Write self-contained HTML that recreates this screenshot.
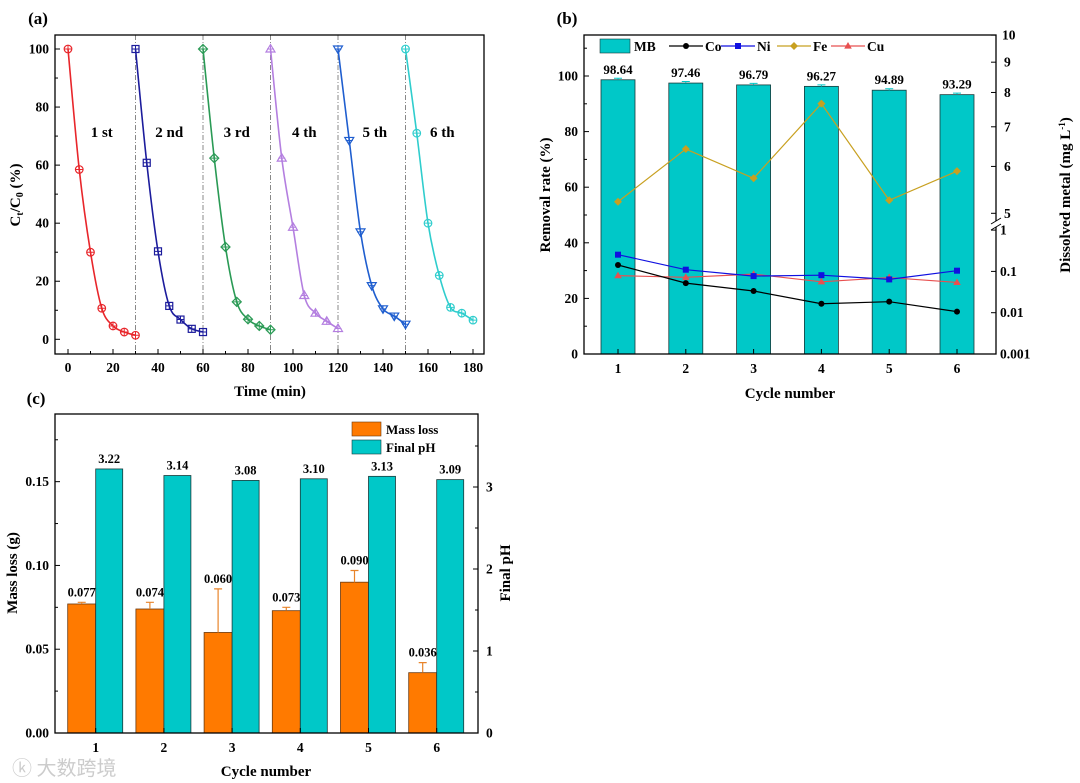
<!DOCTYPE html>
<html><head><meta charset="utf-8"><style>
body{margin:0;background:#fff}
svg{display:block;font-family:"Liberation Serif","Noto Serif CJK SC",serif;font-weight:bold}
</style></head><body>
<svg id="fig" width="1080" height="783" viewBox="0 0 1080 783" xmlns="http://www.w3.org/2000/svg">
<rect width="1080" height="783" fill="#fff"/>
</svg>
<script>
// ---------- Panel (a) data ----------
const cycleLabels=["1 st","2 nd","3 rd","4 th","5 th","6 th"];
const cycleTimes=[0,5,10,15,20,25,30];
const cycle1=[100,58.5,30,10.7,4.6,2.5,1.4];
const cycle2=[100,60.8,30.3,11.5,6.8,3.6,2.5];
const cycle3=[100,62.4,31.8,12.9,6.9,4.6,3.3];
const cycle4=[100,62.4,38.6,15.1,9.0,6.2,3.7];
const cycle5=[100,68.5,37,18.5,10.5,8,5.2];
const cycle6=[100,71,40,22,11,9,6.6];
const aXTicks=[0,20,40,60,80,100,120,140,160,180];
const aYTicks=[0,20,40,60,80,100];
// ---------- Panel (b) data ----------
const bCats=["1","2","3","4","5","6"];
const mbValues=[98.64,97.46,96.79,96.27,94.89,93.29];
const mbLabels=["98.64","97.46","96.79","96.27","94.89","93.29"];
const coValues=[0.143,0.052,0.0335,0.0165,0.0185,0.0106];
const niValues=[0.254,0.11,0.077,0.081,0.064,0.104];
const feValues=[5.23,6.42,5.73,7.66,5.26,5.89];
const cuValues=[0.079,0.072,0.086,0.056,0.071,0.054];
const bLeftTicks=[0,20,40,60,80,100];
const bRightLowTicks=[0.001,0.01,0.1,1];
const bRightLowLabels=["0.001","0.01","0.1","1"];
const bRightHighTicks=[5,6,7,8,9,10];
// ---------- Panel (c) data ----------
const cCats=["1","2","3","4","5","6"];
const massLoss=[0.077,0.074,0.060,0.073,0.090,0.036];
const massErr=[0.001,0.004,0.026,0.002,0.007,0.006];
const massLabels=["0.077","0.074","0.060","0.073","0.090","0.036"];
const finalPH=[3.22,3.14,3.08,3.10,3.13,3.09];
const phLabels=["3.22","3.14","3.08","3.10","3.13","3.09"];
const cLeftTicks=[0,0.05,0.10,0.15];
const cLeftLabels=["0.00","0.05","0.10","0.15"];
const cRightTicks=[0,1,2,3];

const NS="http://www.w3.org/2000/svg";
const svg=document.getElementById('fig');
function el(tag,attrs,parent,text){const e=document.createElementNS(NS,tag);for(const k in attrs)e.setAttribute(k,attrs[k]);if(text!==undefined)e.textContent=text;(parent||svg).appendChild(e);return e;}
function grp(name){const g=el('g',{});return g;}
function txt(g,x,y,s,size,anchor,name){const t=el('text',{x:x,y:y,'font-size':size,'text-anchor':anchor||'middle',fill:'#000'},g,s);return t;}
function smooth(pts){let d=`M${pts[0][0]},${pts[0][1]}`;for(let i=0;i<pts.length-1;i++){const p0=pts[Math.max(0,i-1)],p1=pts[i],p2=pts[i+1],p3=pts[Math.min(pts.length-1,i+2)];const c1=[p1[0]+(p2[0]-p0[0])/6,p1[1]+(p2[1]-p0[1])/6],c2=[p2[0]-(p3[0]-p1[0])/6,p2[1]-(p3[1]-p1[1])/6];d+=` C${c1[0]},${c1[1]} ${c2[0]},${c2[1]} ${p2[0]},${p2[1]}`;}return d;}
const TS=13.5;

// ===== Panel (a) =====
(function(){
const L=55,R=484,T=35,B=354;
const xs=v=>68+v*(473-68)/180, ys=v=>339.3-v*2.903;
const g=grp('panel-a');
txt(g,38,24,'(a)',17,'middle','panel-a-label');
const data=[cycle1,cycle2,cycle3,cycle4,cycle5,cycle6];
const colors=['#e8262b','#1c1c9c','#2a9a55','#b47fe0','#1f5ecf','#2fcdcd'];
const markers=['circle','square','diamond','tri','dtri','circle'];
for(let c=1;c<6;c++){const l=el('line',{x1:xs(30*c),x2:xs(30*c),y1:T,y2:B,stroke:'#888','stroke-width':1,'stroke-dasharray':'5,2,1,2'},g);}
data.forEach((arr,c)=>{
 const sg=el('g',{},g);
 const pts=arr.map((v,i)=>[xs(30*c+cycleTimes[i]),ys(v)]);
 el('path',{d:smooth(pts),fill:'none',stroke:colors[c],'stroke-width':1.6},sg);
 pts.forEach(([x,y])=>{
  const col=colors[c];let m;
  if(markers[c]==='circle')m=el('circle',{cx:x,cy:y,r:3.8,fill:'none',stroke:col,'stroke-width':1.2},sg);
  else if(markers[c]==='square')m=el('rect',{x:x-3.5,y:y-3.5,width:7,height:7,fill:'none',stroke:col,'stroke-width':1.2},sg);
  else if(markers[c]==='diamond')m=el('path',{d:`M${x},${y-4.5}L${x+4.5},${y}L${x},${y+4.5}L${x-4.5},${y}Z`,fill:'none',stroke:col,'stroke-width':1.2},sg);
  else if(markers[c]==='tri')m=el('path',{d:`M${x},${y-4.5}L${x+4.5},${y+3}L${x-4.5},${y+3}Z`,fill:'none',stroke:col,'stroke-width':1.2},sg);
  else m=el('path',{d:`M${x},${y+4.5}L${x+4.5},${y-3}L${x-4.5},${y-3}Z`,fill:'none',stroke:col,'stroke-width':1.2},sg);
  
  el('path',{d:`M${x-3.5},${y}H${x+3.5}M${x},${y-3.5}V${y+3.5}`,stroke:col,'stroke-width':1},sg);
 });
 txt(g,xs(30*c+15)+(c>=4?3:0),137,cycleLabels[c],15,'middle','cycle-label');
});
el('rect',{x:L,y:T,width:R-L,height:B-T,fill:'none',stroke:'#000','stroke-width':1.3},g);
aXTicks.forEach(v=>{el('line',{x1:xs(v),x2:xs(v),y1:B,y2:B-5,stroke:'#000'},g);if(v<180)el('line',{x1:xs(v+10),x2:xs(v+10),y1:B,y2:B-3,stroke:'#000'},g);txt(g,xs(v),372,String(v),TS,'middle','x-tick-label');});
aYTicks.forEach(v=>{el('line',{x1:L,x2:L+5,y1:ys(v),y2:ys(v),stroke:'#000'},g);if(v<100)el('line',{x1:L,x2:L+3,y1:ys(v+10),y2:ys(v+10),stroke:'#000'},g);txt(g,L-6,ys(v)+4.5,String(v),TS,'end','y-tick-label');});
txt(g,270,396,'Time (min)',15,'middle','x-axis-title');
const yt=el('text',{transform:'translate(20,195) rotate(-90)','font-size':15,'text-anchor':'middle'},g);

yt.innerHTML='C<tspan font-size="10" dy="3">t</tspan><tspan dy="-3">/C</tspan><tspan font-size="10" dy="3">0</tspan><tspan dy="-3"> (%)</tspan>';
})();

// ===== Panel (b) =====
(function(){
const L=584,R=996,T=35,B=354;
const xc=i=>618+i*67.8, yl=v=>354-v*2.78;
const ylog=v=>354-41.3*(Math.log10(v)+3);
const yhi=v=>213.3-592*Math.log10(v/5);
const g=grp('panel-b');
txt(g,567,24,'(b)',17,'middle','panel-b-label');
mbValues.forEach((v,i)=>{
 const r=el('rect',{x:xc(i)-17,y:yl(v),width:34,height:B-yl(v),fill:'#00c8c8',stroke:'#1a3a3a','stroke-width':0.8},g);
 
 el('path',{d:`M${xc(i)-4},${yl(v)-1.5}H${xc(i)+4}M${xc(i)},${yl(v)-1.5}V${yl(v)}`,stroke:'#00c8c8','stroke-width':1},g);
 txt(g,xc(i),yl(v)-6,mbLabels[i],13,'middle','bar-value-label');
});
function series(vals,fy,col,mk,name){
 const sg=el('g',{},g);
 el('polyline',{points:vals.map((v,i)=>xc(i)+','+fy(v)).join(' '),fill:'none',stroke:col,'stroke-width':1.2},sg);
 vals.forEach((v,i)=>marker(sg,xc(i),fy(v),col,mk));
}
function marker(p,x,y,col,mk){let m;
 if(mk==='c')m=el('circle',{cx:x,cy:y,r:3,fill:col},p);
 else if(mk==='s')m=el('rect',{x:x-3,y:y-3,width:6,height:6,fill:col},p);
 else if(mk==='d')m=el('path',{d:`M${x},${y-4}L${x+4},${y}L${x},${y+4}L${x-4},${y}Z`,fill:col},p);
 else m=el('path',{d:`M${x},${y-4}L${x+3.8},${y+2.6}L${x-3.8},${y+2.6}Z`,fill:col},p);
 }
series(feValues,yhi,'#c8a020','d','series-fe');
series(cuValues,ylog,'#e85050','t','series-cu');
series(niValues,ylog,'#1010e0','s','series-ni');
series(coValues,ylog,'#000','c','series-co');
el('rect',{x:L,y:T,width:R-L,height:B-T,fill:'none',stroke:'#000','stroke-width':1.3},g);
bCats.forEach((c,i)=>{el('line',{x1:xc(i),x2:xc(i),y1:B,y2:B-5,stroke:'#000'},g);txt(g,xc(i),373,c,TS,'middle','x-tick-label');});
bLeftTicks.forEach(v=>{el('line',{x1:L,x2:L+5,y1:yl(v),y2:yl(v),stroke:'#000'},g);el('line',{x1:L,x2:L+3,y1:yl(v+10),y2:yl(v+10),stroke:'#000'},g);txt(g,L-6,yl(v)+4.5,String(v),TS,'end','y-left-tick-label');});
bRightLowTicks.forEach((v,i)=>{el('line',{x1:R,x2:R-5,y1:ylog(v),y2:ylog(v),stroke:'#000'},g);txt(g,R+4,ylog(v)+4.5,bRightLowLabels[i],TS,'start','y-right-tick-label');});
bRightHighTicks.forEach(v=>{el('line',{x1:R,x2:R-5,y1:yhi(v),y2:yhi(v),stroke:'#000'},g);txt(g,R+(v===10?6:8),yhi(v)+4.5,String(v),TS,'start','y-right-tick-label');});
el('rect',{x:R-4,y:221,width:8,height:6,fill:'#fff'},g);
el('path',{d:`M${R-5},224L${R+5},218M${R-5},230L${R+5},224`,stroke:'#000','stroke-width':1},g);
const lg=el('g',{},g);
el('rect',{x:600,y:39,width:30,height:14,fill:'#00c8c8',stroke:'#1a3a3a','stroke-width':0.6},lg);
txt(lg,634,51,'MB',13.5,'start','legend-entry-mb');
const items=[['Co','#000','c',669],['Ni','#1010e0','s',721],['Fe','#c8a020','d',777],['Cu','#e85050','t',831]];
items.forEach(([n,col,mk,x])=>{el('line',{x1:x,x2:x+34,y1:46,y2:46,stroke:col,'stroke-width':1.2},lg);marker(lg,x+17,46,col,mk);txt(lg,x+36,51,n,13.5,'start','legend-entry-'+n.toLowerCase());});
txt(g,790,398,'Cycle number',15,'middle','x-axis-title');
const y1=txt(g,0,0,'Removal rate (%)',15,'middle','y-left-axis-title');y1.setAttribute('transform','translate(550,195) rotate(-90)');
const y2=el('text',{transform:'translate(1070,195) rotate(-90)','font-size':15,'text-anchor':'middle'},g);

y2.innerHTML='Dissolved metal (mg L<tspan font-size="9" dy="-5">-1</tspan><tspan dy="5">)</tspan>';
})();

// ===== Panel (c) =====
(function(){
const L=55,R=478,T=414,B=733;
const xc=i=>95.7+i*68.2, yl=v=>733-v*1675.6, yr=v=>733-v*82;
const g=grp('panel-c');
txt(g,36,404,'(c)',17,'middle','panel-c-label');
massLoss.forEach((v,i)=>{
 const x=xc(i)-28;
 const r=el('rect',{x:x,y:yl(v),width:28,height:B-yl(v),fill:'#ff7a00',stroke:'#6a3a10','stroke-width':0.8},g);
 
 const ye=yl(v+massErr[i]);
 el('path',{d:`M${xc(i)-14},${yl(v)}V${ye}M${xc(i)-18},${ye}H${xc(i)-10}`,stroke:'#e8842a','stroke-width':1.2,fill:'none'},g);
 txt(g,xc(i)-14,ye-6,massLabels[i],12.5,'middle','mass-loss-value-label');
});
finalPH.forEach((v,i)=>{
 const r=el('rect',{x:xc(i),y:yr(v),width:27,height:B-yr(v),fill:'#00c8c8',stroke:'#1a3a3a','stroke-width':0.8},g);
 
 txt(g,xc(i)+13.5,yr(v)-6,phLabels[i],12.5,'middle','final-ph-value-label');
});
el('rect',{x:L,y:T,width:R-L,height:B-T,fill:'none',stroke:'#000','stroke-width':1.3},g);
cCats.forEach((c,i)=>{el('line',{x1:xc(i),x2:xc(i),y1:B,y2:B-5,stroke:'#000'},g);txt(g,xc(i),752,c,TS,'middle','x-tick-label');});
cLeftTicks.forEach((v,i)=>{el('line',{x1:L,x2:L+5,y1:yl(v),y2:yl(v),stroke:'#000'},g);el('line',{x1:L,x2:L+3,y1:yl(v+0.025),y2:yl(v+0.025),stroke:'#000'},g);txt(g,L-6,yl(v)+4.5,cLeftLabels[i],TS,'end','y-left-tick-label');});
cRightTicks.forEach(v=>{el('line',{x1:R,x2:R-5,y1:yr(v),y2:yr(v),stroke:'#000'},g);el('line',{x1:R,x2:R-3,y1:yr(v+0.5),y2:yr(v+0.5),stroke:'#000'},g);txt(g,R+8,yr(v)+4.5,String(v),TS,'start','y-right-tick-label');});
const lg=el('g',{},g);
el('rect',{x:352,y:422,width:29,height:14,fill:'#ff7a00',stroke:'#6a3a10','stroke-width':0.6},lg);
txt(lg,386,434,'Mass loss',13,'start','legend-entry-mass-loss');
el('rect',{x:352,y:440,width:29,height:14,fill:'#00c8c8',stroke:'#1a3a3a','stroke-width':0.6},lg);
txt(lg,386,452,'Final pH',13,'start','legend-entry-final-ph');
txt(g,266,776,'Cycle number',15,'middle','x-axis-title');
const y1=txt(g,0,0,'Mass loss (g)',15,'middle','y-left-axis-title');y1.setAttribute('transform','translate(17,573) rotate(-90)');
const y2=txt(g,0,0,'Final pH',15,'middle','y-right-axis-title');y2.setAttribute('transform','translate(510,573) rotate(-90)');
const wm=el('text',{x:12,y:775,'font-size':20,fill:'#ccc','font-family':'"Noto Sans CJK SC",sans-serif','font-weight':'normal'},svg,'ⓚ 大数跨境');

})();
</script>
</body></html>
